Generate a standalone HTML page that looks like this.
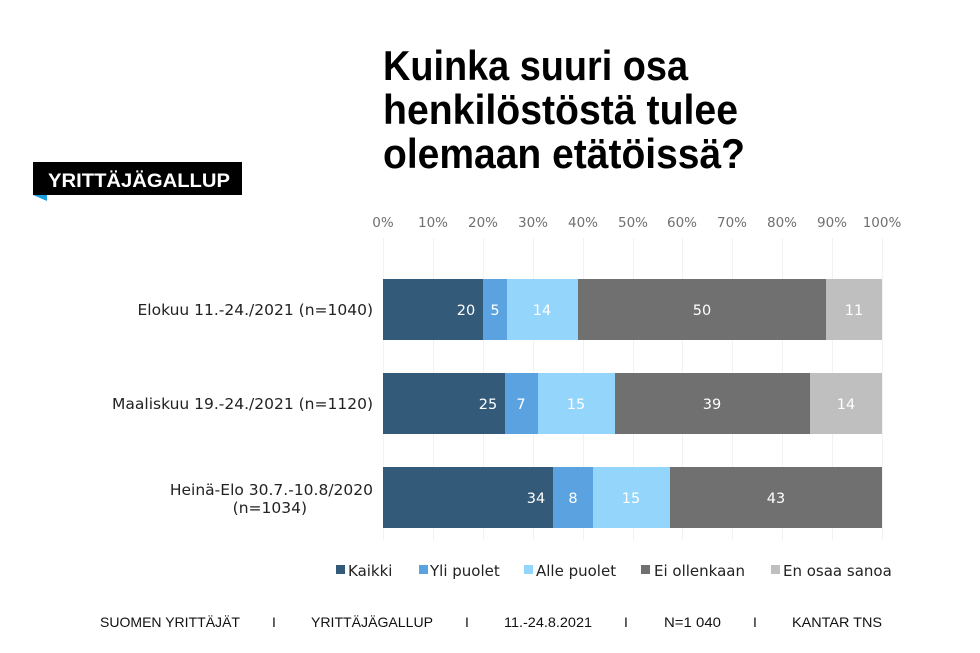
<!DOCTYPE html>
<html><head><meta charset="utf-8"><style>
html,body{margin:0;padding:0;background:#fff;}
svg{display:block;font-family:"Liberation Sans",sans-serif;}
.dv{font-family:"DejaVu Sans",sans-serif;}
</style></head><body>
<svg width="980" height="653" viewBox="0 0 980 653" xmlns="http://www.w3.org/2000/svg">
<rect width="980" height="653" fill="#fff"/>
<g font-weight="bold" font-size="42" fill="#000">
<text x="383" y="80" textLength="305" lengthAdjust="spacingAndGlyphs">Kuinka suuri osa</text>
<text x="383" y="124" textLength="355" lengthAdjust="spacingAndGlyphs">henkilöstöstä tulee</text>
<text x="383" y="168" textLength="362" lengthAdjust="spacingAndGlyphs">olemaan etätöissä?</text>
</g>
<rect x="33" y="162" width="209" height="33" fill="#000"/>
<polygon points="33,195 47,195 47,201" fill="#1a9ee0"/>
<text x="48" y="187" font-size="19" font-weight="bold" fill="#fff" textLength="182" lengthAdjust="spacingAndGlyphs">YRITTÄJÄGALLUP</text>
<g stroke="#f2f2f2" stroke-width="1">
<line x1="383.5" y1="238" x2="383.5" y2="540"/><line x1="433.5" y1="238" x2="433.5" y2="540"/>
<line x1="483.5" y1="238" x2="483.5" y2="540"/><line x1="533.5" y1="238" x2="533.5" y2="540"/>
<line x1="583.5" y1="238" x2="583.5" y2="540"/><line x1="633.5" y1="238" x2="633.5" y2="540"/>
<line x1="682.5" y1="238" x2="682.5" y2="540"/><line x1="732.5" y1="238" x2="732.5" y2="540"/>
<line x1="782.5" y1="238" x2="782.5" y2="540"/><line x1="832.5" y1="238" x2="832.5" y2="540"/>
<line x1="882.5" y1="238" x2="882.5" y2="540"/>
</g>
<g class="dv" font-size="13.5" fill="#707070" text-anchor="middle">
<text x="383" y="227">0%</text><text x="433" y="227">10%</text><text x="483" y="227">20%</text>
<text x="533" y="227">30%</text><text x="583" y="227">40%</text><text x="633" y="227">50%</text>
<text x="682" y="227">60%</text><text x="732" y="227">70%</text><text x="782" y="227">80%</text>
<text x="832" y="227">90%</text><text x="882" y="227">100%</text>
</g>
<g>
<rect x="383" y="279" width="100" height="61" fill="#335a78"/>
<rect x="483" y="279" width="24" height="61" fill="#5ba3e0"/>
<rect x="507" y="279" width="71" height="61" fill="#94d5fb"/>
<rect x="578" y="279" width="248" height="61" fill="#707070"/>
<rect x="826" y="279" width="56" height="61" fill="#bfbfbf"/>
<rect x="383" y="373" width="122" height="61" fill="#335a78"/>
<rect x="505" y="373" width="33" height="61" fill="#5ba3e0"/>
<rect x="538" y="373" width="77" height="61" fill="#94d5fb"/>
<rect x="615" y="373" width="195" height="61" fill="#707070"/>
<rect x="810" y="373" width="72" height="61" fill="#bfbfbf"/>
<rect x="383" y="467" width="170" height="61" fill="#335a78"/>
<rect x="553" y="467" width="40" height="61" fill="#5ba3e0"/>
<rect x="593" y="467" width="77" height="61" fill="#94d5fb"/>
<rect x="670" y="467" width="212" height="61" fill="#707070"/>
</g>
<g class="dv" font-size="14.5" fill="#fff" text-anchor="middle">
<text x="466" y="315">20</text><text x="495" y="315">5</text><text x="542" y="315">14</text><text x="702" y="315">50</text><text x="854" y="315">11</text>
<text x="488" y="409">25</text><text x="521" y="409">7</text><text x="576" y="409">15</text><text x="712" y="409">39</text><text x="846" y="409">14</text>
<text x="536" y="503">34</text><text x="573" y="503">8</text><text x="631" y="503">15</text><text x="776" y="503">43</text>
</g>
<g class="dv" font-size="15.5" fill="#222" text-anchor="end">
<text x="373" y="315">Elokuu 11.-24./2021 (n=1040)</text>
<text x="373" y="409">Maaliskuu 19.-24./2021 (n=1120)</text>
<text x="373" y="495">Heinä-Elo 30.7.-10.8/2020</text>
<text x="307" y="513">(n=1034)</text>
</g>
<g class="dv" font-size="15" fill="#222">
<rect x="336" y="565" width="9" height="9" fill="#335a78"/><text x="348" y="576">Kaikki</text>
<rect x="419" y="565" width="9" height="9" fill="#5ba3e0"/><text x="430" y="576">Yli puolet</text>
<rect x="524" y="565" width="9" height="9" fill="#94d5fb"/><text x="536" y="576">Alle puolet</text>
<rect x="641" y="565" width="9" height="9" fill="#707070"/><text x="654" y="576">Ei ollenkaan</text>
<rect x="771" y="565" width="9" height="9" fill="#bfbfbf"/><text x="783" y="576">En osaa sanoa</text>
</g>
<g font-size="14" fill="#111">
<text x="100" y="627" textLength="140" lengthAdjust="spacingAndGlyphs">SUOMEN YRITTÄJÄT</text>
<text x="272" y="627">I</text>
<text x="311" y="627" textLength="122" lengthAdjust="spacingAndGlyphs">YRITTÄJÄGALLUP</text>
<text x="465" y="627">I</text>
<text x="504" y="627" textLength="88" lengthAdjust="spacingAndGlyphs">11.-24.8.2021</text>
<text x="624" y="627">I</text>
<text x="664" y="627" textLength="57" lengthAdjust="spacingAndGlyphs">N=1 040</text>
<text x="753" y="627">I</text>
<text x="792" y="627" textLength="90" lengthAdjust="spacingAndGlyphs">KANTAR TNS</text>
</g>
</svg>
</body></html>
